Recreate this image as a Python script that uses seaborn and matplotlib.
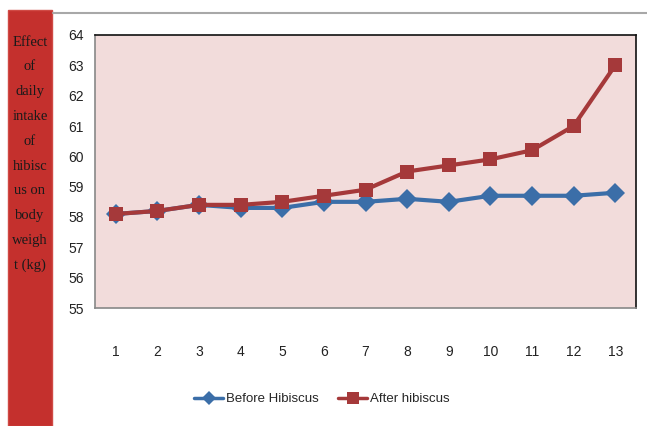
import matplotlib
matplotlib.use("Agg")
import matplotlib.pyplot as plt
import seaborn as sns
import pandas as pd
from matplotlib.patches import Rectangle
from matplotlib.lines import Line2D

days = list(range(1, 14))
before = [58.1, 58.2, 58.4, 58.3, 58.3, 58.5, 58.5, 58.6, 58.5, 58.7, 58.7, 58.7, 58.8]
after = [58.1, 58.2, 58.4, 58.4, 58.5, 58.7, 58.9, 59.5, 59.7, 59.9, 60.2, 61.0, 63.0]
series_names = ["Before Hibiscus", "After hibiscus"]
ylabel_lines = ["Effect", "of", "daily", "intake", "of", "hibisc", "us on", "body", "weigh", "t (kg)"]

df = pd.DataFrame({
    "day": days * 2,
    "weight": before + after,
    "series": [series_names[0]] * len(days) + [series_names[1]] * len(days),
})

sns.set_style("white")
plt.rcParams['font.family'] = ['Liberation Sans Narrow', 'Liberation Sans', 'DejaVu Sans']

fig = plt.figure(figsize=(6.47, 4.26), dpi=100)
fig.patch.set_facecolor("white")

# red side panel
fig.patches.append(Rectangle((8/647, 0), 44/647, 1 - 10/426, transform=fig.transFigure,
                             facecolor="#c4302d", edgecolor="#d04a45", lw=1, zorder=0))
fig.lines.append(Line2D([53/647, 1], [1 - 13/426, 1 - 13/426], transform=fig.transFigure,
                        color="#a8a8a8", lw=1.5))
for i, t in enumerate(ylabel_lines):
    y = 42 + i * 24.8
    fig.text(30/647, 1 - y/426, t, ha="center", va="center", fontsize=10.5,
             family=["Liberation Serif", "DejaVu Serif"], color="#1a1a1a")

ax = fig.add_axes([95/647, 1 - 308/426, (636 - 95)/647, (308 - 35)/426])
ax.set_facecolor("#f2dcdb")

palette = {series_names[0]: "#3b6ea8", series_names[1]: "#a5393a"}
sns.lineplot(data=df, x="day", y="weight", hue="series", style="series",
             markers={series_names[0]: "D", series_names[1]: "s"}, dashes=False,
             palette=palette, linewidth=3, markersize=10, markeredgewidth=0,
             ax=ax, legend=False)

ax.set_xlim(0.5, 13.5)
ax.set_ylim(55, 64)
ax.set_yticks(range(55, 65))
ax.set_xticks(days)
ax.set_xticklabels([str(d) for d in days])
ax.set_xticks([d + 0.5 for d in range(0, 14)], minor=True)
ax.tick_params(axis="x", which="major", length=0, pad=27, labelsize=10, labelcolor="#222222")
ax.tick_params(axis="x", which="minor", length=5, color="#888888", width=1, direction="out")
ax.tick_params(axis="y", which="major", length=5, color="#888888", width=1, direction="out",
               labelsize=10, labelcolor="#222222", pad=3)
ax.set_xlabel("")
ax.set_ylabel("")

for s in ["top", "right"]:
    ax.spines[s].set_color("#111111")
    ax.spines[s].set_linewidth(1.2)
for s in ["left", "bottom"]:
    ax.spines[s].set_color("#888888")
    ax.spines[s].set_linewidth(1.2)

handles = [
    Line2D([], [], color=palette[series_names[0]], marker="D", markersize=7, lw=2.5, markeredgewidth=0),
    Line2D([], [], color=palette[series_names[1]], marker="s", markersize=8, lw=2.5, markeredgewidth=0),
]
fig.legend(handles, series_names, loc="center", bbox_to_anchor=(322/647, 1 - 399/426),
           ncol=2, frameon=False, fontsize=9.5, handlelength=2.2, handletextpad=0.2,
           columnspacing=1.5)

fig.savefig("out.png", dpi=100)
